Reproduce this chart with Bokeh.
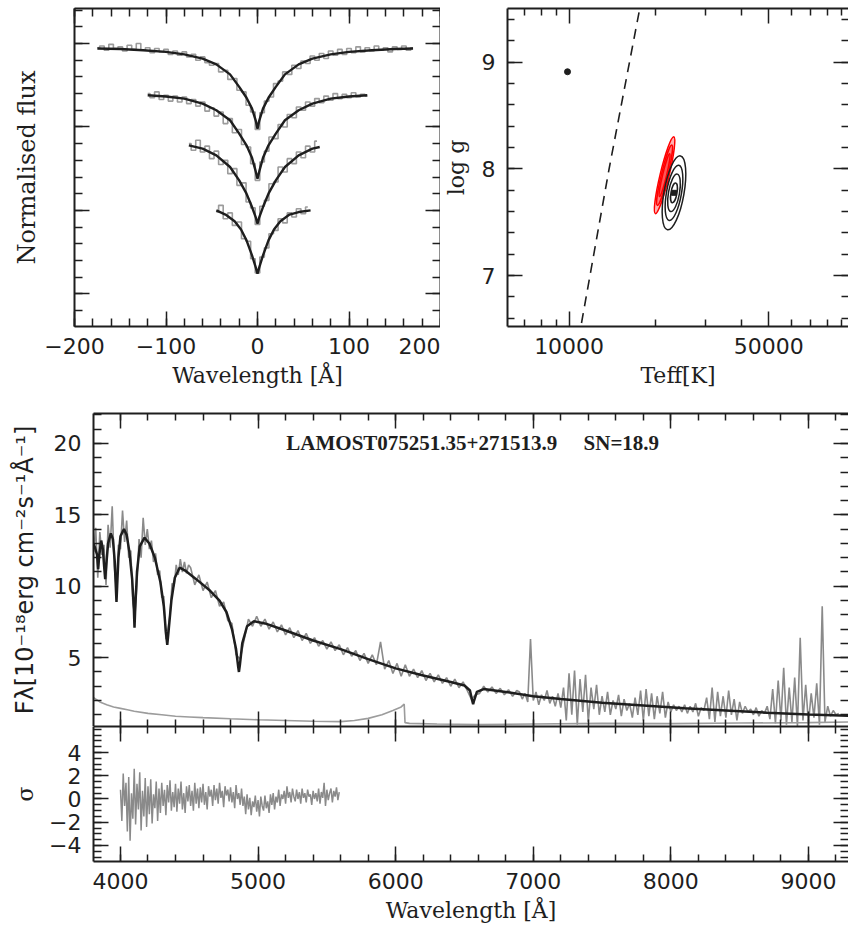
import numpy as np
from bokeh.plotting import figure
from bokeh.layouts import column, row
from bokeh.models import (Range1d, FixedTicker, LinearAxis, Label, LogScale,
                          PrintfTickFormatter)
from bokeh.embed import file_html
from bokeh.resources import INLINE

# ------------------------------------------------------------------ data
# (a) normalised Balmer line profiles, offset vertically; x = Delta lambda [A]
prof1_x = np.arange(-175, 171, 5)
prof1_obs = [2.95, 2.97, 2.92, 2.99, 2.94, 2.96, 2.91, 2.98, 2.93, 3.00, 2.92, 2.95,
             2.89, 2.94, 2.90, 2.93, 2.87, 2.91, 2.86, 2.90, 2.84, 2.87, 2.80, 2.84,
             2.77, 2.74, 2.76, 2.66, 2.68, 2.57, 2.58, 2.44, 2.42, 2.26, 2.18, 1.97,
             2.17, 2.31, 2.36, 2.52, 2.55, 2.66, 2.63, 2.74, 2.70, 2.79, 2.76, 2.85,
             2.80, 2.88, 2.82, 2.91, 2.86, 2.93, 2.87, 2.94, 2.89, 2.96, 2.90, 2.95,
             2.91, 2.97, 2.92, 2.95, 2.90, 2.96, 2.93, 2.97, 2.92, 2.95]
prof1_mx = [-175, -150, -125, -100, -80, -60, -45, -30, -20, -12, -6, -2, 0,
            2, 6, 12, 20, 30, 45, 60, 80, 100, 125, 150, 170]
prof1_my = [2.94, 2.935, 2.92, 2.90, 2.87, 2.82, 2.75, 2.63, 2.48, 2.35, 2.22, 2.08, 1.98,
            2.08, 2.22, 2.35, 2.48, 2.63, 2.75, 2.82, 2.87, 2.90, 2.92, 2.935, 2.94]

prof2_x = np.arange(-120, 121, 5)
prof2_obs = [2.40, 2.35, 2.42, 2.33, 2.38, 2.31, 2.37, 2.30, 2.36, 2.28, 2.33, 2.25,
             2.30, 2.19, 2.23, 2.13, 2.18, 2.04, 2.10, 1.93, 1.97, 1.79, 1.76, 1.56,
             1.36, 1.58, 1.71, 1.88, 1.86, 2.03, 2.00, 2.15, 2.11, 2.24, 2.20, 2.30,
             2.25, 2.34, 2.29, 2.37, 2.32, 2.40, 2.34, 2.39, 2.35, 2.41, 2.36, 2.39, 2.37]
prof2_mx = [-120, -100, -80, -60, -45, -30, -20, -12, -6, -2, 0,
            2, 6, 12, 20, 30, 45, 60, 80, 100, 120]
prof2_my = [2.38, 2.365, 2.34, 2.28, 2.20, 2.08, 1.92, 1.78, 1.63, 1.47, 1.38,
            1.47, 1.63, 1.78, 1.92, 2.08, 2.20, 2.28, 2.34, 2.365, 2.38]

prof3_x = np.arange(-75, 66, 5)
prof3_obs = [1.80, 1.72, 1.84, 1.70, 1.77, 1.62, 1.71, 1.55, 1.60, 1.44, 1.50, 1.30,
             1.33, 1.10, 1.03, 0.83, 1.05, 1.12, 1.32, 1.34, 1.52, 1.46, 1.62, 1.56,
             1.70, 1.63, 1.77, 1.70, 1.83]
prof3_mx = [-75, -60, -45, -30, -20, -12, -6, -2, 0, 2, 6, 12, 20, 30, 45, 60, 68]
prof3_my = [1.78, 1.74, 1.66, 1.52, 1.36, 1.20, 1.04, 0.92, 0.84, 0.92, 1.04, 1.20,
            1.36, 1.52, 1.66, 1.74, 1.76]

prof4_x = np.arange(-45, 56, 5)
prof4_obs = [0.98, 1.06, 0.90, 0.97, 0.82, 0.86, 0.66, 0.63, 0.42, 0.25, 0.44, 0.55,
             0.72, 0.76, 0.90, 0.85, 0.97, 0.92, 1.02, 0.96, 1.04]
prof4_mx = [-45, -35, -25, -18, -12, -6, -2, 0, 2, 6, 12, 18, 25, 35, 45, 58]
prof4_my = [1.00, 0.95, 0.87, 0.77, 0.64, 0.46, 0.32, 0.24, 0.32, 0.46, 0.64, 0.77,
            0.87, 0.95, 0.98, 1.00]

prof_ticks_x = [-200, -100, 0, 100, 200]
prof_tick_labels_x = ["\u2212200", "\u2212100", "0", "100", "200"]

# (b) Teff - log g plane
boundary_teff = [10700, 10990, 13800, 17660, 17900]
boundary_logg = [6.40, 6.52, 8.00, 9.50, 9.58]
other_teff = [9870]
other_logg = [8.91]
red_teff = [21580, 21580, 21580]
red_logg = [7.94, 7.94, 7.94]
black_teff = [23280, 23280, 23280, 23280]
black_logg = [7.775, 7.775, 7.775, 7.775]
best_teff = [23280]
best_logg = [7.775]
teff_ticks = [10000, 50000]
teff_minor = [7000, 8000, 9000, 20000, 30000, 40000, 60000, 70000, 80000, 90000]
logg_ticks = [7, 8, 9]

# (c) LAMOST spectrum
obs_wave = np.concatenate([np.arange(3805, 4500, 15), np.arange(4510, 6881, 30),
                           np.arange(6900, 9221, 20)])
obs_flux = ([12.4, 14.1, 10.6, 13.8, 12.2, 12.9, 10.1, 14.3, 12.7, 15.6, 11.4, 9.8,
             12.9, 12.6, 15.3, 13.1, 14.6, 12.0, 12.5, 8.8, 7.9, 10.2, 13.3, 12.0,
             14.8, 12.9, 14.0, 12.6, 13.2, 11.7, 12.3, 10.8, 11.1, 9.2, 9.3, 6.3,
             7.0, 8.0, 10.2, 10.0, 11.5, 10.8, 11.9, 11.0, 11.7, 10.9, 11.5]
            + [11.3, 10.1, 10.8, 9.7, 10.3, 9.2, 9.7, 8.6, 8.9, 7.6, 7.4, 5.2, 4.9, 6.3,
               7.7, 7.2, 7.9, 7.2, 7.7, 7.0, 7.5, 6.8, 7.3, 6.6, 7.1, 6.4, 6.9, 6.2, 6.7,
               6.0, 6.4, 5.8, 6.2, 5.6, 6.1, 5.5, 5.9, 5.2, 5.7, 5.1, 5.5, 4.8, 5.3, 4.6,
               5.2, 4.5, 6.1, 4.2, 4.8, 3.9, 4.6, 3.7, 4.5, 3.7, 4.2, 3.6, 4.1, 3.4, 3.9,
               3.3, 3.8, 3.2, 3.6, 3.0, 3.5, 2.9, 3.3, 2.7, 2.1, 2.4, 2.5, 3.0, 2.6, 2.95,
               2.5, 2.85, 2.4, 2.75, 2.3, 2.7]
            + [2.6, 2.1, 2.5, 1.9, 6.3, 2.0, 2.6, 1.7, 2.4, 2.0, 2.7, 1.8, 2.3, 1.6, 2.5,
               1.5, 2.9, 0.6, 3.9, 1.0, 4.1, 0.3, 3.5, 1.2, 3.8, 0.5, 2.9, 1.4, 3.1, 1.0,
               2.3, 1.2, 2.6, 1.0, 2.0, 1.4, 2.4, 0.9, 2.1, 1.3, 1.8, 0.8, 2.2, 1.0, 2.7,
               0.6, 2.8, 0.9, 2.5, 0.7, 2.3, 1.1, 2.6, 0.8, 1.9, 1.2, 1.7, 1.3, 1.6, 1.2,
               1.7, 1.1, 1.6, 1.2, 1.8, 0.9, 1.5, 1.3, 2.2, 0.7, 2.9, 0.5, 2.6, 0.9, 2.3,
               0.8, 2.7, 1.0, 2.1, 0.6, 1.9, 1.1, 1.6, 1.2, 1.4, 1.0, 1.5, 0.9, 1.3, 1.1,
               1.6, 0.7, 2.8, 0.4, 3.4, 0.6, 4.3, 0.3, 2.9, 0.5, 3.6, 0.2, 6.4, 0.6, 3.1,
               0.4, 2.5, 0.8, 3.2, 0.3, 8.6, 0.5, 1.6, 0.9, 1.3, 1.0, 1.1])

model_wave = [3804, 3815, 3830, 3838, 3845, 3860, 3872, 3882, 3889, 3896, 3910, 3930,
              3945, 3958, 3966, 3971, 3976, 3985, 4000, 4025, 4045, 4065, 4085, 4097,
              4102, 4107, 4120, 4140, 4175, 4210, 4250, 4290, 4315, 4330, 4340, 4350,
              4370, 4395, 4430, 4470, 4550, 4650, 4720, 4770, 4810, 4840, 4855, 4861,
              4868, 4885, 4920, 4970, 5050, 5200, 5400, 5600, 5800, 6000, 6200, 6400,
              6500, 6540, 6556, 6563, 6570, 6590, 6640, 6800, 7000, 7200, 7500, 7800,
              8100, 8400, 8700, 9000, 9290]
model_flux = [13.0, 12.7, 12.2, 11.2, 12.1, 13.2, 12.6, 11.3, 10.5, 11.4, 13.0, 13.7,
              13.3, 11.8, 10.0, 8.9, 10.0, 12.0, 13.5, 14.0, 13.6, 12.4, 10.5, 8.5,
              7.1, 8.4, 11.0, 12.8, 13.4, 13.0, 12.0, 10.3, 8.6, 6.8, 5.9, 6.9,
              9.0, 10.6, 11.3, 11.1, 10.5, 9.7, 9.0, 8.2, 7.0, 5.6, 4.4, 4.0,
              4.5, 6.0, 7.2, 7.55, 7.4, 6.9, 6.2, 5.6, 4.9, 4.25, 3.75, 3.3,
              3.05, 2.7, 2.0, 1.75, 2.0, 2.6, 2.8, 2.6, 2.3, 2.1, 1.85, 1.65,
              1.45, 1.3, 1.15, 1.02, 0.93]

err_wave = [3805, 3850, 3900, 3950, 4000, 4050, 4100, 4200, 4300, 4400, 4500, 4600,
            4800, 5000, 5200, 5400, 5600, 5700, 5800, 5900, 5980, 6040, 6062, 6068,
            6100, 6300, 6600, 7000, 7500, 8000, 8500, 9000, 9290]
err_flux = [2.2, 1.9, 1.7, 1.55, 1.45, 1.35, 1.25, 1.1, 1.0, 0.9, 0.85, 0.8,
            0.72, 0.65, 0.6, 0.55, 0.52, 0.6, 0.75, 1.0, 1.3, 1.55, 1.75, 0.45,
            0.4, 0.35, 0.32, 0.35, 0.4, 0.38, 0.42, 0.45, 0.5]

resid_wave = np.arange(4000, 5600, 10)
resid = [0.8, -1.9, 2.2, -0.6, 1.4, -2.8, 1.9, -3.6, 0.5, -1.7,
         2.6, -2.2, 1.3, -0.9, 2.3, -2.7, 0.7, -1.5, 1.8, -2.4,
         1.1, -1.3, 1.7, -2.1, 0.4, -0.8, 1.5, -1.9, 0.9, -1.2,
         1.4, -0.6, 0.8, -1.4, 1.2, -0.3, 1.6, -1.0, 0.6, -0.7,
         1.3, -1.1, 0.9, -0.4, 1.5, -0.9, 0.5, -1.2, 1.1, -0.2,
         1.2, -0.6, 0.7, -1.0, 1.4, -0.4, 0.9, -0.8, 1.0, -0.3,
         1.3, -0.5, 0.6, -0.9, 1.1, 0.2, 0.8, -0.6, 1.2, -0.1,
         0.9, -0.4, 1.4, 0.1, 0.7, -0.7, 1.1, 0.3, 0.8, -0.2,
         1.0, -0.3, 0.6, -0.8, 1.2, 0.0, 0.5, -0.5, 0.9, -0.6,
         0.2, -1.3, 0.4, -0.9, 0.1, -1.4, -0.2, -0.7, 0.3, -1.1,
         -0.1, -1.5, 0.2, -0.6, -1.0, 0.3, -0.8, -0.2, -1.2, 0.4,
         -0.5, 0.5, -0.9, 0.2, -0.3, 0.8, -0.6, 0.4, 0.0, 0.7,
         -0.4, 1.1, 0.1, 0.6, -0.3, 0.9, 0.2, -0.2, 0.8, 0.0,
         0.6, -0.4, 0.9, 0.1, 0.5, -0.3, 0.8, 0.2, 0.4, -0.5,
         0.7, 0.0, 0.5, -0.2, 0.9, -0.4, 0.6, 0.1, 1.4, -0.6,
         0.8, -0.1, 0.5, 0.9, -0.3, 0.7, 0.2, 1.0, -0.1, 0.6]

wave_ticks = [4000, 5000, 6000, 7000, 8000, 9000]
flux_ticks = [5, 10, 15, 20]
sigma_ticks = [-4, -2, 0, 2, 4]
sigma_tick_labels = ["\u22124", "\u22122", "0", "2", "4"]
star_name = "LAMOST075251.35+271513.9"
star_sn = "SN=18.9"
title_wave, title_flux = 6560, 20.0

# ------------------------------------------------------------------ style
INK = "#1e1e1e"
GRAY = "#8a8a8a"
LGRAY = "#9c9c9c"
TICK_FONT = "DejaVu Sans"
LABEL_FONT = "DejaVu Serif"
TICK_SIZE = "22px"
LABEL_SIZE = "22px"


def style(ax, maj, mnr, labels=True, line=True, lab_off=12, ax_off=8):
    ax.major_tick_in = maj
    ax.major_tick_out = 0
    ax.minor_tick_in = mnr
    ax.minor_tick_out = 0
    ax.major_tick_line_color = INK
    ax.minor_tick_line_color = INK
    ax.major_tick_line_width = 1.5
    ax.minor_tick_line_width = 1.5
    ax.axis_line_color = INK if line else None
    ax.axis_line_width = 2
    ax.major_label_text_font = TICK_FONT
    ax.major_label_text_color = INK
    if labels:
        ax.major_label_text_font_size = TICK_SIZE
        ax.major_label_standoff = lab_off
    else:
        ax.major_label_text_font_size = "1px"
        ax.major_label_text_color = None
        ax.major_label_text_alpha = 0
        ax.major_label_standoff = 0
    ax.axis_label_text_font = LABEL_FONT
    ax.axis_label_text_font_size = LABEL_SIZE
    ax.axis_label_text_font_style = "normal"
    ax.axis_label_text_color = INK
    ax.axis_label_standoff = ax_off


def extra(p, side, tk, maj, mnr, line=True):
    ax = LinearAxis(ticker=tk)
    style(ax, maj, mnr, labels=False, line=line, ax_off=0)
    p.add_layout(ax, side)
    return ax


def make(w, h, xr, yr, l, r, t, b, xaxis="linear"):
    p = figure(width=w, height=h, x_range=xr, y_range=yr, x_axis_type=xaxis,
               output_backend="svg", toolbar_location=None,
               min_border_left=l, min_border_right=r, min_border_top=t,
               min_border_bottom=b)
    p.grid.visible = False
    p.outline_line_color = None
    p.background_fill_color = "white"
    p.border_fill_color = "white"
    return p


# ------------------------------------------------------------------ (a)
p1 = make(440, 400, Range1d(-200, 200), Range1d(-0.392, 3.42), 74, 0, 8, 74)
tx1 = lambda: FixedTicker(ticks=prof_ticks_x, minor_ticks=list(range(-200, 201, 20)))
ty1 = lambda: FixedTicker(ticks=[0, 1, 2, 3],
                          minor_ticks=[round(v, 1) for v in np.arange(-0.2, 3.41, 0.2)])
p1.xaxis[0].ticker = tx1()
p1.xaxis[0].major_label_overrides = dict(zip(prof_ticks_x, prof_tick_labels_x))
p1.xaxis[0].axis_label = "Wavelength [\u00c5]"
style(p1.xaxis[0], 15, 8, lab_off=11, ax_off=6)
p1.yaxis[0].ticker = ty1()
p1.yaxis[0].axis_label = "Normalised flux"
style(p1.yaxis[0], 15, 8, labels=False, ax_off=34)
p1.yaxis[0].axis_label_text_font_size = "24px"
extra(p1, "above", tx1(), 15, 8)
extra(p1, "right", ty1(), 15, 8)
for ox, oy, mx, my in [(prof1_x, prof1_obs, prof1_mx, prof1_my),
                       (prof2_x, prof2_obs, prof2_mx, prof2_my),
                       (prof3_x, prof3_obs, prof3_mx, prof3_my),
                       (prof4_x, prof4_obs, prof4_mx, prof4_my)]:
    p1.step(ox, oy, mode="center", line_color=LGRAY, line_width=1.6)
    p1.line(mx, my, line_color=INK, line_width=2.4)

# ------------------------------------------------------------------ (b)
p2 = make(408, 400, Range1d(6086, 95000), Range1d(6.522, 9.503), 67, 0, 8, 74, xaxis=None)
p2.x_scale = LogScale()
tx2 = lambda: FixedTicker(ticks=teff_ticks, minor_ticks=teff_minor)
ty2 = lambda: FixedTicker(ticks=logg_ticks,
                          minor_ticks=[round(v, 1) for v in np.arange(6.6, 9.5, 0.2)])
bx2 = LinearAxis(ticker=tx2(), formatter=PrintfTickFormatter(format="%d"),
                 axis_label="Teff[K]")
style(bx2, 15, 7, lab_off=11, ax_off=6)
p2.add_layout(bx2, "below")
p2.yaxis[0].ticker = ty2()
p2.yaxis[0].axis_label = "log g"
style(p2.yaxis[0], 15, 7, lab_off=12, ax_off=10)
extra(p2, "above", tx2(), 15, 7)
extra(p2, "right", ty2(), 15, 7, line=False)
p2.line(boundary_teff, boundary_logg, line_color=INK, line_width=1.6, line_dash="10 7")
p2.scatter(other_teff, other_logg, size=6, color=INK)
p2.ellipse(x=red_teff, y=red_logg, width=[79, 62, 44], height=[9, 6.5, 4], angle=76.5,
           width_units="screen", height_units="screen", angle_units="deg",
           line_color="#ff0000", line_width=1.5, fill_color="#ff0000", fill_alpha=0.3)
p2.ellipse(x=black_teff, y=black_logg, width=[75, 56, 38, 20], height=[20, 15, 11, 6],
           angle=80, width_units="screen", height_units="screen", angle_units="deg",
           line_color=INK, line_width=1.5, fill_color=None)
p2.scatter(best_teff, best_logg, size=5, marker="square", color=INK)

# ------------------------------------------------------------------ (c)
WMIN, WMAX = 3804, 9291
txw = lambda: FixedTicker(ticks=wave_ticks, minor_ticks=list(range(3800, 9300, 200)))
p3 = make(848, 326, Range1d(WMIN, WMAX), Range1d(0.18, 22.1), 93, 0, 13, 0)
p3.xaxis[0].ticker = txw()
style(p3.xaxis[0], 15, 7, labels=False, ax_off=0)
ty3 = lambda: FixedTicker(ticks=flux_ticks, minor_ticks=list(range(1, 23)))
p3.yaxis[0].ticker = ty3()
p3.yaxis[0].axis_label = "F\u03bb[10\u207b\u00b9\u2078erg cm\u207b\u00b2s\u207b\u00b9\u00c5\u207b\u00b9]"
style(p3.yaxis[0], 15, 8, lab_off=12, ax_off=12)
p3.yaxis[0].axis_label_text_font = TICK_FONT
p3.yaxis[0].axis_label_text_font_size = "24px"
extra(p3, "above", txw(), 15, 7)
extra(p3, "right", ty3(), 15, 8, line=False)
p3.line(obs_wave, obs_flux, line_color=GRAY, line_width=1.6)
p3.line(err_wave, err_flux, line_color=LGRAY, line_width=1.6)
p3.line(model_wave, model_flux, line_color=INK, line_width=2.5)
p3.add_layout(Label(x=title_wave, y=title_flux,
                    text=star_name + "\u00a0" * 5 + star_sn,
                    text_align="center", text_baseline="middle",
                    text_font="Liberation Serif", text_font_style="bold",
                    text_font_size="21px", text_color=INK))

# ------------------------------------------------------------------ residuals
p4 = make(848, 203, Range1d(WMIN, WMAX), Range1d(-5.38, 6.24), 93, 0, 0, 68)
p4.xaxis[0].ticker = txw()
p4.xaxis[0].axis_label = "Wavelength [\u00c5]"
style(p4.xaxis[0], 15, 7, lab_off=11, ax_off=6)
ty4 = lambda: FixedTicker(ticks=sigma_ticks,
                          minor_ticks=[round(v, 1) for v in np.arange(-5.0, 6.01, 0.5)])
p4.yaxis[0].ticker = ty4()
p4.yaxis[0].major_label_overrides = dict(zip(sigma_ticks, sigma_tick_labels))
p4.yaxis[0].axis_label = "\u03c3"
style(p4.yaxis[0], 15, 8, lab_off=12, ax_off=8)
extra(p4, "above", txw(), 15, 7)
extra(p4, "right", ty4(), 15, 8, line=False)
p4.line(resid_wave, resid, line_color=GRAY, line_width=1.5)

layout = column(row(p1, p2), p3, p4)
open("out.html", "w").write(file_html(layout, INLINE))
